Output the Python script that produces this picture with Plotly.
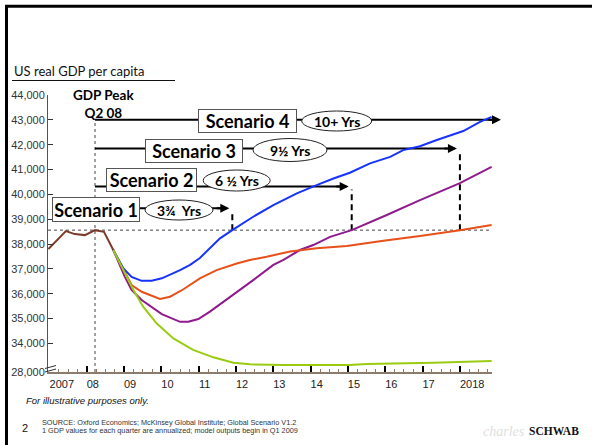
import numpy as np
import plotly.graph_objects as go

# ---------------------------------------------------------------
# Data: US real GDP per capita (USD, annualized quarterly values)
# ---------------------------------------------------------------
hist_t = [2006.97, 2007.44, 2007.68, 2007.95, 2008.22, 2008.46, 2008.71]
hist_v = [37800, 38520, 38400, 38360, 38560, 38490, 37760]

# Scenario 1 - fastest recovery
s1_t = [2008.71, 2008.98, 2009.20, 2009.47, 2009.74, 2010.01, 2010.50, 2010.77,
        2011.03, 2011.30, 2011.57, 2011.93, 2012.46, 2013.00, 2013.63, 2014.16,
        2014.61, 2015.05, 2015.59, 2016.13, 2016.48, 2016.93, 2017.38, 2018.09,
        2018.54, 2018.85]
s1_v = [37760, 37020, 36680, 36520, 36520, 36620, 36950, 37160,
        37440, 37840, 38230, 38590, 39100, 39570, 40040, 40370,
        40640, 40870, 41250, 41510, 41780, 41940, 42190, 42550,
        42920, 43120]

# Scenario 2 - deeper dip, steady climb
s2_t = [2008.71, 2009.02, 2009.20, 2009.47, 2010.01, 2010.50, 2010.72, 2010.99,
        2011.30, 2011.93, 2012.46, 2013.00, 2013.27, 2013.71, 2014.07, 2014.52,
        2015.10, 2016.04, 2016.93, 2018.00, 2018.85]
s2_v = [37760, 36680, 36150, 35750, 35180, 34870, 34870, 34980,
        35280, 35950, 36550, 37160, 37360, 37760, 37960, 38290,
        38560, 39170, 39770, 40450, 41110]

# Scenario 3 - shallow dip, slow growth
s3_t = [2008.71, 2009.20, 2009.47, 2009.96, 2010.23, 2010.59, 2011.03, 2011.48,
        2012.02, 2012.37, 2012.82, 2013.45, 2014.16, 2014.97, 2015.95, 2016.93,
        2018.00, 2018.85]
s3_v = [37760, 36350, 36080, 35790, 35880, 36180, 36620, 36950,
        37220, 37360, 37490, 37700, 37830, 37920, 38130, 38320,
        38560, 38770]

# Scenario 4 - prolonged stagnation
s4_t = [2008.71, 2008.98, 2009.25, 2009.51, 2009.87, 2010.32, 2010.85, 2011.39,
        2011.93, 2012.37, 2013.27, 2015.05, 2015.50, 2017.29, 2018.85]
s4_v = [37760, 36950, 36150, 35480, 34810, 34200, 33740, 33440,
        33220, 33160, 33130, 33130, 33170, 33220, 33290]

scenario_names = ["Scenario 1", "Scenario 2", "Scenario 3", "Scenario 4"]
recovery_text = ["3¾  Yrs", "6 ½ Yrs", "9½ Yrs", "10+ Yrs"]

years = list(range(2007, 2019))
year_labels = ["2007", "08", "09", "10", "11", "12", "13", "14", "15", "16", "17", "2018"]
y_tick_values = [34000, 35000, 36000, 37000, 38000, 39000, 40000, 41000, 42000, 43000, 44000]
y_floor_label = "28,000"

# ---------------------------------------------------------------
# Layout geometry
# ---------------------------------------------------------------
W, H = 592, 445
ML, MR, MT, MB = 48, 100, 95, 73
X0, X1 = 2006.96, 2018.86
Y0, Y1 = 32850, 44000   # compressed axis: the floor stands for 28,000

def ppx(x):
    return (x - ML) / (W - ML - MR)

def ppy(y):
    return (H - MB - y) / (H - MT - MB)

def xd(t):
    return (t - X0) / (X1 - X0)

def yd(v):
    return (v - Y0) / (Y1 - Y0)

def label(x, y, text, font, xanchor="center", **kw):
    d = dict(xref="paper", yref="paper", x=x, y=y, text=text, showarrow=False,
             xanchor=xanchor, yanchor="middle", font=font)
    d.update(kw)
    return d

peak_i = int(np.argmax(hist_v))
peak_t, peak_v = hist_t[peak_i], hist_v[peak_i]

def recovery_time(ts, vs, level):
    lo = int(np.argmin(vs))
    for i in range(lo, len(vs) - 1):
        if vs[i] < level <= vs[i + 1]:
            return ts[i] + (level - vs[i]) * (ts[i + 1] - ts[i]) / (vs[i + 1] - vs[i])
    return None

series = [(s1_t, s1_v, "#1733ff"), (s2_t, s2_v, "#8e1a8e"),
          (s3_t, s3_v, "#e8501a"), (s4_t, s4_v, "#99cc11")]

fig = go.Figure()
for idx in [1, 2, 0, 3]:
    t, v, c = series[idx]
    fig.add_trace(go.Scatter(x=t, y=v, mode="lines", line=dict(color=c, width=2),
                             hoverinfo="skip", showlegend=False))
fig.add_trace(go.Scatter(x=hist_t, y=hist_v, mode="lines",
                         line=dict(color="#7b3a2a", width=2),
                         hoverinfo="skip", showlegend=False))
# carrier for the year-label axis
fig.add_trace(go.Scatter(x=[None], y=[None], xaxis="x2", showlegend=False, hoverinfo="skip"))

shapes = []
annotations = []

# slide frame and title rule
shapes.append(dict(type="line", xref="paper", yref="paper", x0=ppx(5), x1=ppx(592),
                   y0=ppy(6.2), y1=ppy(6.2), line=dict(color="black", width=3)))
shapes.append(dict(type="line", xref="paper", yref="paper", x0=ppx(6.5), x1=ppx(6.5),
                   y0=ppy(5), y1=ppy(445), line=dict(color="black", width=3)))
shapes.append(dict(type="line", xref="paper", yref="paper", x0=ppx(12), x1=ppx(175),
                   y0=ppy(80.5), y1=ppy(80.5), line=dict(color="#111", width=1)))

# previous-peak reference lines
shapes.append(dict(type="line", xref="paper", yref="paper", x0=0, x1=1,
                   y0=yd(peak_v), y1=yd(peak_v),
                   line=dict(color="#444", width=1, dash="3px,3px"), layer="below"))
arrow_levels = [39440, 40320, 41850, 43000]
shapes.append(dict(type="line", xref="paper", yref="paper", x0=xd(peak_t), x1=xd(peak_t),
                   y0=0, y1=yd(arrow_levels[3]),
                   line=dict(color="#444", width=1, dash="3px,3px"), layer="below"))

rec_times = [recovery_time(t, v, peak_v) for t, v, _ in series[:3]]
tips = [xd(r) - 3 / 444 for r in rec_times] + [ppx(501)]

for k in range(4):
    lvl = yd(arrow_levels[k])
    shapes.append(dict(type="line", xref="paper", yref="paper",
                       x0=xd(peak_t) if k > 0 else ppx(140),
                       x1=tips[k] - 4 / 444, y0=lvl, y1=lvl,
                       line=dict(color="black", width=2), layer="below"))
    annotations.append(dict(xref="paper", yref="paper", x=tips[k], y=lvl, ax=-14, ay=0,
                            text="", showarrow=True, arrowhead=2, arrowsize=0.9,
                            arrowwidth=2, arrowcolor="black", standoff=0))
    if k < 3:
        shapes.append(dict(type="line", xref="paper", yref="paper",
                           x0=xd(rec_times[k]), x1=xd(rec_times[k]),
                           y0=yd(peak_v), y1=lvl - 3 / 277,
                           line=dict(color="black", width=2, dash="6px,4px"), layer="below"))

# scenario boxes and duration ellipses (pixel centers / sizes)
boxes = [(95.5, 209.5, 88, 25), (151.2, 180, 91, 24), (194.2, 151, 98, 24), (247.5, 120.5, 99, 24)]
ellipses = [(179, 210, 68, 20), (236.7, 180.5, 67, 21), (290, 150, 74, 23), (336.7, 121, 70, 20)]

for k in range(4):
    cx, cy, w, h = ellipses[k]
    shapes.append(dict(type="circle", xref="paper", yref="paper",
                       x0=ppx(cx - w / 2), x1=ppx(cx + w / 2),
                       y0=ppy(cy + h / 2), y1=ppy(cy - h / 2),
                       line=dict(color="#222", width=1), fillcolor="white", layer="below"))
    annotations.append(label(ppx(cx), ppy(cy), "<b>%s</b>" % recovery_text[k],
                             dict(family="Lato", size=14, color="black")))
    bx, by, bw, bh = boxes[k]
    annotations.append(label(ppx(bx), ppy(by), "<b>%s</b>" % scenario_names[k],
                             dict(family="Lato", size=18, color="black"),
                             width=bw - 2, height=bh - 2, borderpad=0, borderwidth=1,
                             bordercolor="#555", bgcolor="white"))

# axis break marks
for dy in (0, 3.5):
    shapes.append(dict(type="line", xref="paper", yref="paper",
                       x0=ppx(45), x1=ppx(56), y0=ppy(370.5 - dy + 1.5), y1=ppy(370.5 - dy - 1.5),
                       line=dict(color="#333", width=1)))

# text
foot = dict(family="Liberation Sans", size=7.3, color="#333")
annotations += [
    label(ppx(12), ppy(71), "US real GDP per capita",
          dict(family="Lato", size=13, color="#111"), xanchor="left"),
    label(ppx(103), ppy(104), "<b>GDP Peak</b><br><b>Q2 08</b>",
          dict(family="Lato", size=13.5, color="black")),
    label(ppx(24), ppy(400), "<i>For illustrative purposes only.</i>",
          dict(family="Liberation Sans", size=9.5, color="#111"), xanchor="left"),
    label(ppx(20), ppy(428), "2", dict(family="Liberation Sans", size=11, color="#111"),
          xanchor="left"),
    label(ppx(40), ppy(422),
          "SOURCE: Oxford Economics; McKinsey Global Institute; Global Scenario V1.2",
          foot, xanchor="left"),
    label(ppx(40), ppy(430.5),
          "1 GDP values for each quarter are annualized; model outputs begin in Q1 2009",
          foot, xanchor="left"),
    label(ppx(527), ppy(431), "<i>charles</i>",
          dict(family="Liberation Serif", size=14, color="#e0e0e0"), xanchor="right"),
    label(ppx(527), ppy(431), "<b>SCHWAB</b>",
          dict(family="Liberation Serif", size=11.5, color="#111"), xanchor="left"),
]

label_pos = [y + (0.33 if len(l) == 4 else 0.16) for y, l in zip(years, year_labels)]
minor_pos = [y + q / 4 for y in years for q in (1, 2, 3)]

fig.update_layout(
    width=W, height=H,
    margin=dict(l=ML, r=MR, t=MT, b=MB, pad=0),
    paper_bgcolor="white", plot_bgcolor="white",
    font=dict(family="Liberation Sans", color="#222"),
    showlegend=False, hovermode=False,
    xaxis=dict(range=[X0, X1], showgrid=False, zeroline=False,
               showline=True, linecolor="#8c7b6b", linewidth=2,
               tickmode="array", tickvals=years[1:], ticks="inside", ticklen=6,
               tickwidth=2, tickcolor="black", showticklabels=False,
               minor=dict(tickmode="array", tickvals=minor_pos, ticks="inside",
                          ticklen=3, tickwidth=1, tickcolor="#8c7b6b", showgrid=False)),
    xaxis2=dict(range=[X0, X1], overlaying="x", anchor="y", side="bottom",
                showgrid=False, zeroline=False, showline=False, ticks="",
                tickmode="array", tickvals=label_pos, ticktext=year_labels,
                ticklabelstandoff=4,
                tickfont=dict(family="Liberation Sans", size=11, color="#222")),
    yaxis=dict(range=[Y0, Y1], showgrid=False, zeroline=False,
               showline=True, linecolor="#6b4c3b", linewidth=1,
               tickmode="array", tickvals=[Y0] + y_tick_values,
               ticktext=[y_floor_label] + ["{:,}".format(v) for v in y_tick_values],
               ticks="inside", ticklen=5, tickcolor="#333", tickwidth=1,
               tickfont=dict(family="Liberation Sans", size=11, color="#333")),
    shapes=shapes,
    annotations=annotations,
)

fig.write_html("out.html")
